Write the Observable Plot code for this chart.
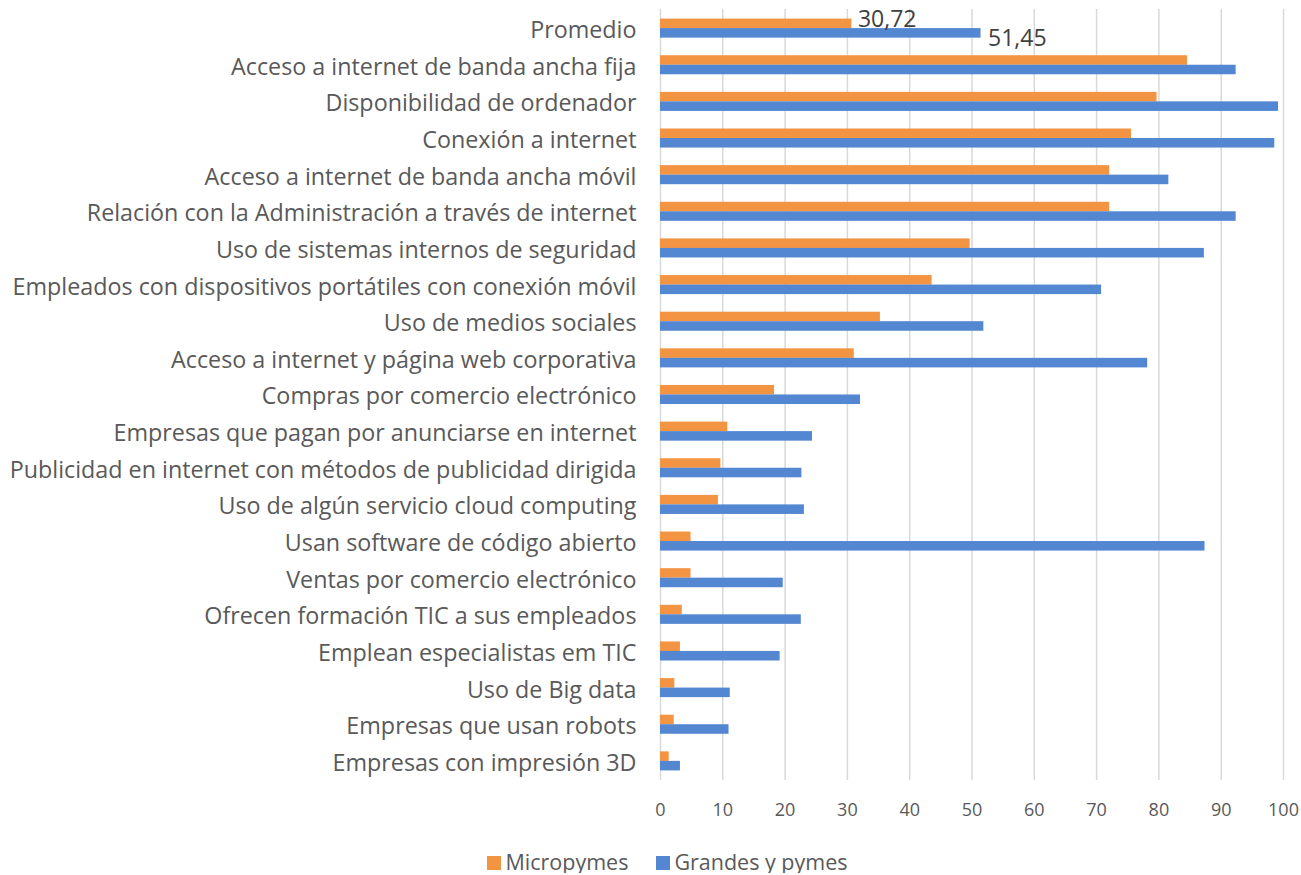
<!DOCTYPE html>
<html>
<head>
<meta charset="utf-8">
<script src="https://cdn.jsdelivr.net/npm/d3@7"></script>
<script src="https://cdn.jsdelivr.net/npm/@observablehq/plot@0.6"></script>
<style>
  body { margin: 0; background: #fff; font-family: "Open Sans", sans-serif; }
  #legend { display: flex; justify-content: center; gap: 28px; font-size: 21.5px; color: #595959; margin-top: 21px; padding-left: 34px; line-height: 1; }
  #legend span.sw { display: inline-block; width: 14px; height: 14px; margin-right: 4px; vertical-align: 0px; }
</style>
</head>
<body>
<div id="chart"></div>
<div id="legend"></div>
<script>
const categories = [
  "Promedio",
  "Acceso a internet de banda ancha fija",
  "Disponibilidad de ordenador",
  "Conexión a internet",
  "Acceso a internet de banda ancha móvil",
  "Relación con la Administración a través de internet",
  "Uso de sistemas internos de seguridad",
  "Empleados con dispositivos portátiles con conexión móvil",
  "Uso de medios sociales",
  "Acceso a internet y página web corporativa",
  "Compras por comercio electrónico",
  "Empresas que pagan por anunciarse en internet",
  "Publicidad en internet con métodos de publicidad dirigida",
  "Uso de algún servicio cloud computing",
  "Usan software de código abierto",
  "Ventas por comercio electrónico",
  "Ofrecen formación TIC a sus empleados",
  "Emplean especialistas em TIC",
  "Uso de Big data",
  "Empresas que usan robots",
  "Empresas con impresión 3D"
];
const micropymes = [30.72, 84.6, 79.7, 75.6, 72.1, 72.1, 49.7, 43.6, 35.3, 31.1, 18.3, 10.8, 9.7, 9.3, 4.9, 4.9, 3.5, 3.2, 2.3, 2.2, 1.4];
const grandes = [51.45, 92.4, 99.2, 98.6, 81.6, 92.4, 87.3, 70.8, 51.9, 78.2, 32.1, 24.4, 22.7, 23.1, 87.4, 19.7, 22.6, 19.2, 11.2, 11.0, 3.2];
const seriesNames = ["Micropymes", "Grandes y pymes"];
const seriesColors = ["#f39443", "#5387d1"];
const xTicks = [0, 10, 20, 30, 40, 50, 60, 70, 80, 90, 100];

const rows = categories.map((c, i) => ({cat: c, micro: micropymes[i], grandes: grandes[i]}));
const fmt = v => v.toFixed(2).replace(".", ",");
const labelled = rows.filter(d => d.cat === "Promedio");

const chart = Plot.plot({
  width: 1301,
  height: 830,
  marginLeft: 660,
  marginRight: 18,
  marginTop: 1,
  marginBottom: 42,
  style: {fontFamily: "'Open Sans', sans-serif", color: "#595959", background: "#fff"},
  x: {domain: [0, 100], ticks: xTicks, label: null, tickSize: 0, tickPadding: 15, tickFormat: d => d},
  y: {domain: categories, label: null, padding: 0.48, round: false, tickSize: 0, tickPadding: 24},
  marks: [
    Plot.gridX(xTicks, {stroke: "#d9d9d9", strokeOpacity: 1, strokeWidth: 1.5, insetTop: 8, insetBottom: 8}),
    Plot.barX(rows, {y: "cat", x: "micro", fill: seriesColors[0], insetBottom: 9.5}),
    Plot.barX(rows, {y: "cat", x: "grandes", fill: seriesColors[1], insetTop: 9.5}),
    Plot.text(labelled, {y: "cat", x: "micro", text: d => fmt(d.micro), dx: 6, dy: -9, textAnchor: "start", fontSize: 23, fill: "#404040"}),
    Plot.text(labelled, {y: "cat", x: "grandes", text: d => fmt(d.grandes), dx: 7, dy: 10, textAnchor: "start", fontSize: 23, fill: "#404040"}),
    Plot.axisY({tickSize: 0, tickPadding: 24, fontSize: 23.3, fill: "#595959", dy: 2}),
    Plot.axisX({ticks: xTicks, tickSize: 0, tickPadding: 15, fontSize: 18, fill: "#595959", label: null})
  ]
});
document.getElementById("chart").appendChild(chart);

const legend = document.getElementById("legend");
seriesNames.forEach((n, i) => {
  const item = document.createElement("div");
  item.innerHTML = `<span class="sw" style="background:${seriesColors[i]}"></span>${n}`;
  legend.appendChild(item);
});
</script>
</body>
</html>
